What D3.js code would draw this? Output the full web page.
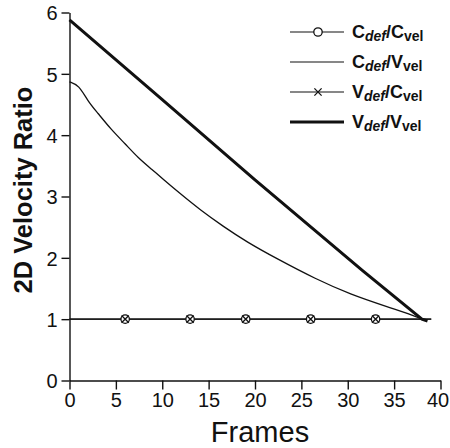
<!DOCTYPE html>
<html>
<head>
<meta charset="utf-8">
<script src="https://cdn.jsdelivr.net/npm/d3@7"></script>
<style>
  body { margin: 0; background: #fff; }
  svg { display: block; font-family: "Liberation Sans", Arial, Helvetica, sans-serif; }
</style>
</head>
<body>
<div id="container"></div>
<script>
/**
 * CONSTANTS AND DATA
 * */
const width = 450,
  height = 448;

// ticks
const xTicks = [0, 5, 10, 15, 20, 25, 30, 35, 40];
const yTicks = [0, 1, 2, 3, 4, 5, 6];

// C_def / V_vel (thin curve)
const cdvvFrames = [0, 1, 2, 3, 4.5, 6, 7.4, 8.9, 10.1, 11.9, 14.1, 16.6, 19.1, 22.3, 26.6, 30.2, 34.5, 36.6, 38];
const cdvvValues = [4.87, 4.82, 4.55, 4.37, 4.09, 3.86, 3.63, 3.44, 3.28, 3.05, 2.78, 2.51, 2.26, 1.99, 1.65, 1.41, 1.19, 1.09, 1.0];

// V_def / V_vel (thick line)
const vdvvFrames = [0, 10, 20, 31.6, 38, 38.6];
const vdvvValues = [5.88, 4.58, 3.27, 1.79, 1.0, 0.97];

// C_def / C_vel and V_def / C_vel (flat at 1)
const flatFrames = [0, 6, 13, 19, 26, 33, 39];
const cdcvValues = [1, 1, 1, 1, 1, 1, 1];
const vdcvValues = [1, 1, 1, 1, 1, 1, 1];
const markerFrames = [6, 13, 19, 26, 33];

const legendItems = [
  { num: "C", den: "C", marker: "circle", w: 1.2 },
  { num: "C", den: "V", marker: null, w: 1.2 },
  { num: "V", den: "C", marker: "cross", w: 1.2 },
  { num: "V", den: "V", marker: null, w: 3 }
];

/**
 * SCALES
 * */
const x = d3.scaleLinear().domain([0, 40]).range([69.5, 440.5]);
const y = d3.scaleLinear().domain([0, 6]).range([380.5, 12.5]);

const svg = d3.select("#container")
  .append("svg")
  .attr("width", width)
  .attr("height", height);

// axes
const xAxis = svg.append("g")
  .attr("transform", `translate(0,${y(0)})`)
  .call(d3.axisBottom(x).tickValues(xTicks).tickFormat(d3.format("d"))
    .tickSize(9).tickSizeOuter(0).tickPadding(3));

const yAxis = svg.append("g")
  .attr("transform", `translate(${x(0)},0)`)
  .call(d3.axisLeft(y).tickValues(yTicks).tickFormat(d3.format("d"))
    .tickSize(8).tickSizeOuter(0).tickPadding(4));

[xAxis, yAxis].forEach(g => {
  g.selectAll("path, line").attr("stroke", "#111").attr("stroke-width", 1.4);
  g.selectAll("text").attr("fill", "#111").style("font-size", "20px")
    .style("font-family", "'Liberation Sans', Arial, sans-serif");
});
yAxis.selectAll("text").attr("dy", "0.36em");
// keep the last label inside the frame
xAxis.selectAll(".tick").filter(d => d === 40).select("text").attr("dx", -3);

// axis titles
svg.append("text")
  .attr("x", 260)
  .attr("y", 442)
  .attr("text-anchor", "middle")
  .style("font-size", "29px")
  .attr("fill", "#111")
  .text("Frames");

svg.append("text")
  .attr("transform", "translate(32,190) rotate(-90)")
  .attr("text-anchor", "middle")
  .style("font-size", "25.5px")
  .style("font-weight", "bold")
  .attr("fill", "#111")
  .text("2D Velocity Ratio");

/**
 * LINES
 * */
const line = d3.line()
  .x(d => x(d[0]))
  .y(d => y(d[1]));

svg.append("path")
  .datum(d3.zip(flatFrames, cdcvValues))
  .attr("d", line)
  .attr("fill", "none")
  .attr("stroke", "#111")
  .attr("stroke-width", 1.3);

svg.append("path")
  .datum(d3.zip(flatFrames, vdcvValues))
  .attr("d", line)
  .attr("fill", "none")
  .attr("stroke", "#111")
  .attr("stroke-width", 1.3);

svg.append("path")
  .datum(d3.zip(cdvvFrames, cdvvValues))
  .attr("d", line.curve(d3.curveBasis))
  .attr("fill", "none")
  .attr("stroke", "#111")
  .attr("stroke-width", 1.3);

svg.append("path")
  .datum(d3.zip(vdvvFrames, vdvvValues))
  .attr("d", line.curve(d3.curveLinear))
  .attr("fill", "none")
  .attr("stroke", "#111")
  .attr("stroke-width", 3);

// markers: circles and crosses overlaid
function drawCircle(g, cx, cy) {
  g.append("circle")
    .attr("cx", cx).attr("cy", cy).attr("r", 4.2)
    .attr("fill", "#fff").attr("stroke", "#111").attr("stroke-width", 1.3);
}
function drawCross(g, cx, cy) {
  const s = 3.6;
  g.append("path")
    .attr("d", `M${cx - s},${cy - s}L${cx + s},${cy + s}M${cx - s},${cy + s}L${cx + s},${cy - s}`)
    .attr("stroke", "#111").attr("stroke-width", 1.3);
}

const markers = svg.append("g");
markerFrames.forEach(f => {
  drawCircle(markers, x(f), y(1));
  drawCross(markers, x(f), y(1));
});

/**
 * LEGEND
 * */
const legend = svg.append("g");
legendItems.forEach((d, i) => {
  const ly = 32 + i * 30;
  legend.append("line")
    .attr("x1", 290).attr("x2", 344)
    .attr("y1", ly).attr("y2", ly)
    .attr("stroke", "#111").attr("stroke-width", d.w);
  if (d.marker === "circle") drawCircle(legend, 318, ly);
  if (d.marker === "cross") drawCross(legend, 318, ly);

  const t = legend.append("text")
    .attr("x", 352)
    .attr("y", ly + 6)
    .attr("fill", "#111")
    .style("font-weight", "bold")
    .style("font-size", "18px");
  t.append("tspan").text(d.num);
  t.append("tspan").attr("dy", 3).style("font-size", "14px").style("font-style", "italic").text("def");
  t.append("tspan").attr("dy", -3).text("/" + d.den);
  t.append("tspan").attr("dy", 3).style("font-size", "14px").text("vel");
});
</script>
</body>
</html>
